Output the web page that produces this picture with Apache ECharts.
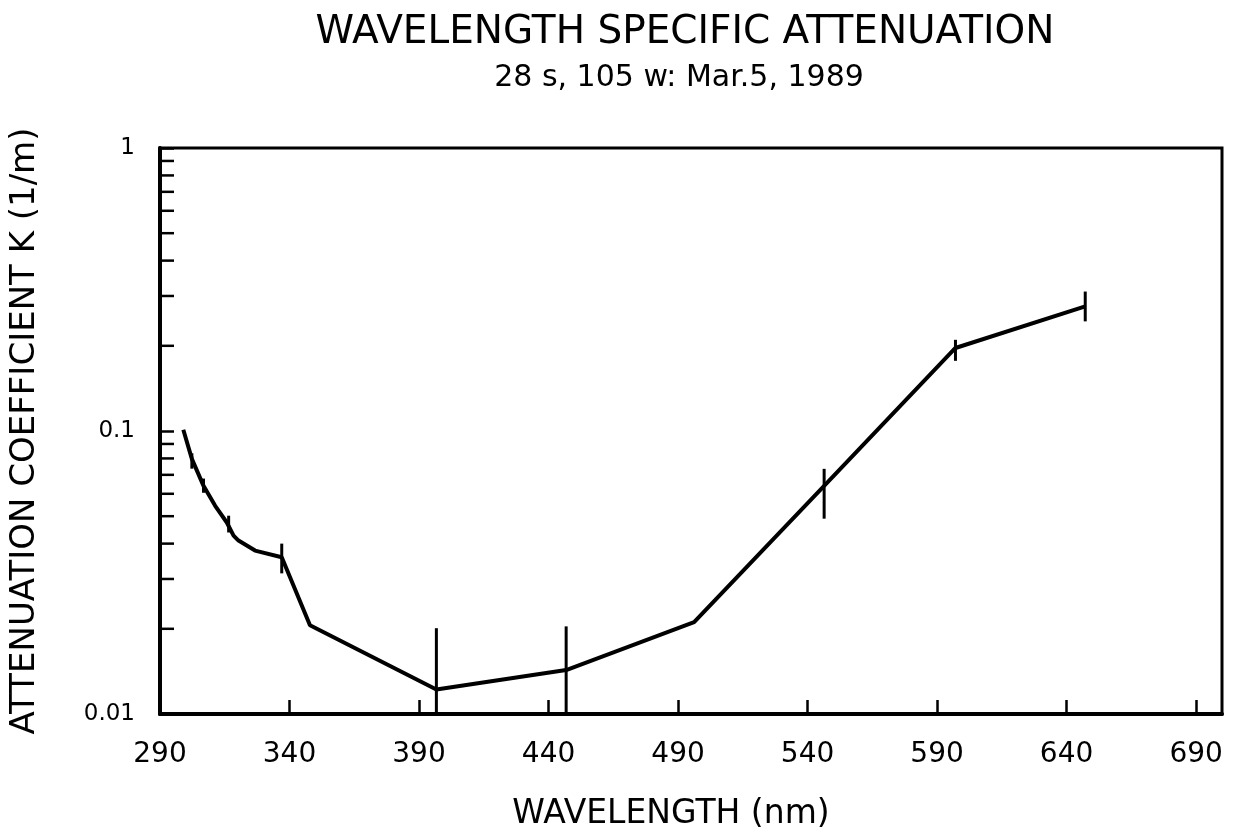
<!DOCTYPE html>
<html>
<head>
<meta charset="utf-8">
<script src="https://cdn.jsdelivr.net/npm/echarts@6/dist/echarts.min.js"></script>
<style>html,body{margin:0;padding:0;background:#fff}#c{width:1236px;height:840px}</style>
</head>
<body>
<div id="c"></div>
<script>
// Wavelength (nm) and attenuation coefficient K (1/m)
var wavelengths = [299, 302.3, 306.8, 311.3, 315.8, 318.4, 320.3, 326.7, 337, 347.9, 396.7, 446.8, 496.2, 546.4, 597.1, 647.2];
var kValues     = [0.101, 0.0797, 0.064, 0.0544, 0.0475, 0.0427, 0.041, 0.0378, 0.0358, 0.0206, 0.0122, 0.0143, 0.0211, 0.064, 0.1965, 0.2755];
// Error bars: wavelength, low, high
var errWavelengths = [302.3, 306.8, 316.5, 337, 396.7, 446.8, 546.4, 597.1, 647.2];
var errLow  = [0.0736, 0.0605, 0.0438, 0.0314, 0.0100, 0.0100, 0.049, 0.177, 0.244];
var errHigh = [0.0834, 0.0679, 0.0502, 0.040, 0.0201, 0.0204, 0.0735, 0.21, 0.311];
// Minor ticks on the log axis
var minorTickValues = [0.02,0.03,0.04,0.05,0.06,0.07,0.08,0.09,0.2,0.3,0.4,0.5,0.6,0.7,0.8,0.9];

var FONT = 'DejaVu Sans';
var lineData = wavelengths.map(function(w,i){return [w,kValues[i]];});
var errData = errWavelengths.map(function(w,i){return [w,errLow[i],errHigh[i]];});
var minorData = minorTickValues.map(function(v){return [290,v];});

var chart = echarts.init(document.getElementById('c'), null, {renderer:'canvas'});
chart.setOption({
  animation:false,
  backgroundColor:'#fff',
  title:[
    {text:'WAVELENGTH SPECIFIC ATTENUATION', left:680, top:8, textAlign:'center',
     textStyle:{fontFamily:FONT,fontSize:39,fontWeight:'normal',color:'#000'}},
    {text:'28 s, 105 w: Mar.5, 1989', left:674, top:58, textAlign:'center',
     textStyle:{fontFamily:FONT,fontSize:30,fontWeight:'normal',color:'#000'}}
  ],
  grid:{left:158,right:14,top:148,bottom:126,show:true,borderColor:'#000',borderWidth:3,containLabel:false},
  xAxis:{
    type:'value',min:290,max:700,interval:50,
    name:'WAVELENGTH (nm)',nameLocation:'middle',nameGap:84,
    nameTextStyle:{fontFamily:FONT,fontSize:33,color:'#000',padding:[0,40,0,0]},
    axisLine:{lineStyle:{color:'#000',width:4}},
    axisTick:{inside:true,length:14,lineStyle:{color:'#000',width:2.5}},
    axisLabel:{fontFamily:FONT,fontSize:28,color:'#000',margin:27,showMaxLabel:false},
    splitLine:{show:false}
  },
  yAxis:{
    type:'log',logBase:10,min:0.01,max:1,
    name:'ATTENUATION COEFFICIENT K (1/m)',nameLocation:'middle',nameGap:118,
    nameTextStyle:{fontFamily:FONT,fontSize:34,color:'#000'},
    axisLine:{lineStyle:{color:'#000',width:4}},
    axisTick:{inside:true,length:14,lineStyle:{color:'#000',width:2.5}},
    axisLabel:{fontFamily:FONT,fontSize:23,color:'#000',margin:25,
      formatter:function(v){return v>=1?'1':(v>=0.1?'0.1':'0.01');}},
    splitLine:{show:false}
  },
  series:[
    {type:'line',data:lineData,symbol:'none',lineStyle:{color:'#000',width:4},z:3},
    {type:'custom',data:errData,z:4,clip:false,
     renderItem:function(params,api){
       var p1=api.coord([api.value(0),api.value(1)]);
       var p2=api.coord([api.value(0),api.value(2)]);
       return {type:'line',shape:{x1:p1[0],y1:p1[1],x2:p2[0],y2:p2[1]},style:{stroke:'#000',lineWidth:3}};
     }},
    {type:'custom',data:minorData,z:4,clip:false,
     renderItem:function(params,api){
       var p=api.coord([api.value(0),api.value(1)]);
       return {type:'line',shape:{x1:p[0],y1:p[1],x2:p[0]+14,y2:p[1]},style:{stroke:'#000',lineWidth:2.5}};
     }}
  ]
});
</script>
</body>
</html>
